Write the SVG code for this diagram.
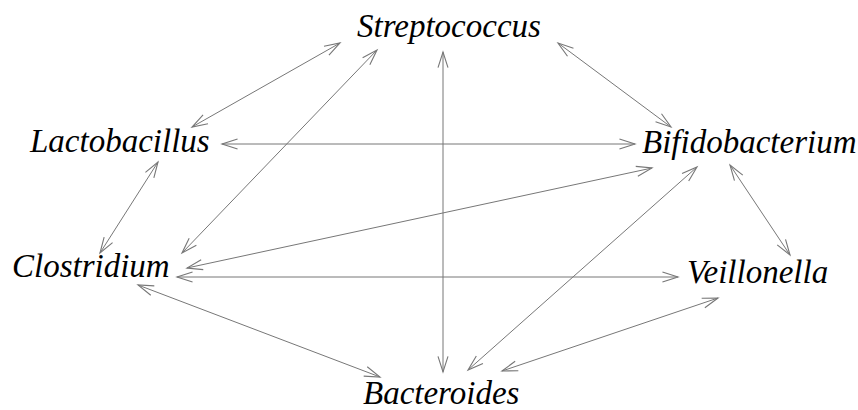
<svg xmlns="http://www.w3.org/2000/svg" width="858" height="410" viewBox="0 0 858 410">
<style>
.lbl{font-family:"Liberation Serif","Times New Roman",serif;font-style:italic;font-size:33px;fill:#000}
.e line{stroke:#777;stroke-width:1;fill:none;marker-start:url(#ah);marker-end:url(#ah)}
</style>
<defs>
<marker id="ah" markerUnits="userSpaceOnUse" markerWidth="20" markerHeight="20" viewBox="-16 -8 18 16" refX="0" refY="0" orient="auto-start-reverse">
<path d="M-14,-4.5 L0,0 L-14,4.5" fill="none" stroke="#777" stroke-width="1"/>
</marker>
</defs>
<rect width="858" height="410" fill="#fff"/>
<g class="e" id="connectors">
<line x1="192" y1="127" x2="340" y2="43"/>
<line x1="182" y1="253" x2="377" y2="50"/>
<line x1="443" y1="52" x2="443" y2="372"/>
<line x1="558" y1="43" x2="671" y2="127"/>
<line x1="222" y1="144" x2="635" y2="144"/>
<line x1="158" y1="162" x2="100" y2="253"/>
<line x1="187" y1="268" x2="652" y2="168"/>
<line x1="177" y1="277" x2="678" y2="277"/>
<line x1="697" y1="167" x2="468" y2="370"/>
<line x1="730" y1="165" x2="790" y2="255"/>
<line x1="718" y1="298" x2="502" y2="371"/>
<line x1="138" y1="285" x2="380" y2="377"/>
</g>
<g id="streptococcus"><text class="lbl" x="357" y="37">Streptococcus</text></g>
<g id="lactobacillus"><text class="lbl" x="30" y="152">Lactobacillus</text></g>
<g id="bifidobacterium"><text class="lbl" x="642" y="153">Bifidobacterium</text></g>
<g id="clostridium"><text class="lbl" x="12" y="277">Clostridium</text></g>
<g id="veillonella"><text class="lbl" x="687" y="283">Veillonella</text></g>
<g id="bacteroides"><text class="lbl" x="363" y="404">Bacteroides</text></g>
</svg>
